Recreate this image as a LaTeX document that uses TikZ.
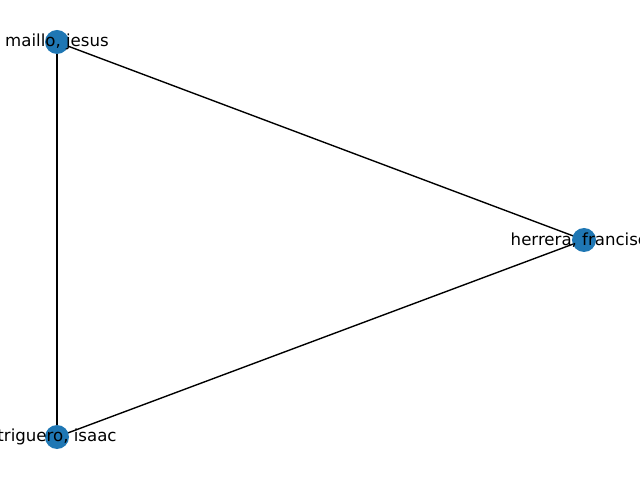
\documentclass[tikz,border=0pt]{standalone}
\usepackage{fontspec}
\setmainfont{DejaVu Sans}
\usetikzlibrary{backgrounds}
\definecolor{nodeblue}{HTML}{1F77B4}

\begin{document}
\begin{tikzpicture}[x=1in, y=1in,
    author/.style={circle, fill=nodeblue, inner sep=0pt, minimum size=0.24in},
    font=\fontsize{12}{14}\selectfont]
      \clip (0,0) rectangle (6.4,4.8);
      \useasboundingbox (0,0) rectangle (6.4,4.8);
      \node[author, label={center:maillo, jesus}] (m) at (0.57,4.38) {};
      \node[author, label={center:herrera, francisco}] (h) at (5.84,2.40) {};
      \node[author, label={center:triguero, isaac}] (t) at (0.57,0.43) {};
      \begin{scope}[on background layer]
        \draw[line width=1pt] (m.center) -- (h.center);
        \draw[line width=1pt] (m.center) -- (t.center);
        \draw[line width=1pt] (h.center) -- (t.center);
      \end{scope}
    \end{tikzpicture}
\end{document}
